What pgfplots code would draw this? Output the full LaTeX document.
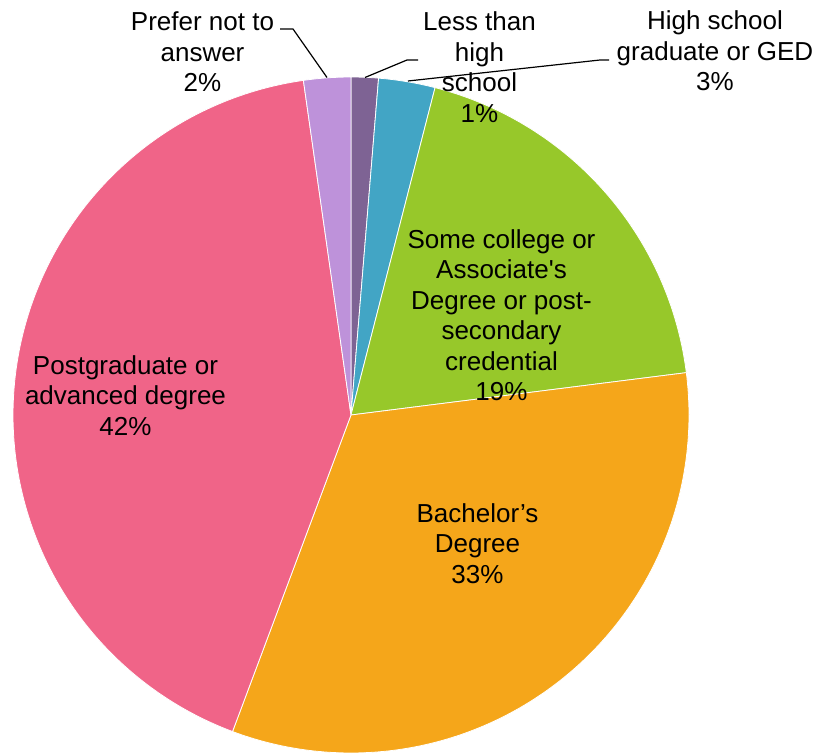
\documentclass[border=0pt]{standalone}
\usepackage{pgfplots}
\pgfplotsset{compat=1.18}
\usepackage{fontspec}
\setmainfont{Liberation Sans}
\definecolor{cLT}{HTML}{7E6394}
\definecolor{cHS}{HTML}{42A5C5}
\definecolor{cSC}{HTML}{97C82A}
\definecolor{cBA}{HTML}{F5A61A}
\definecolor{cPG}{HTML}{F06488}
\definecolor{cPN}{HTML}{BE92DA}
% data (percent)
\def\vLT{1.3}
\def\vHS{2.7}
\def\vSC{19.0}
\def\vBA{32.7}
\def\vPG{42.05}
\def\vPN{2.25}
\pgfmathsetmacro\aA{0}
\pgfmathsetmacro\aB{\aA+\vLT*3.6}
\pgfmathsetmacro\aC{\aB+\vHS*3.6}
\pgfmathsetmacro\aD{\aC+\vSC*3.6}
\pgfmathsetmacro\aE{\aD+\vBA*3.6}
\pgfmathsetmacro\aF{\aE+\vPG*3.6}
\pgfmathsetmacro\aG{\aF+\vPN*3.6}
\newcommand{\slice}[3]{%
  \addplot[fill=#3, draw=white, line width=0.8pt, domain=#1:#2, samples=150, variable=\t]
    ({351+338*sin(\t)}, {415-338*cos(\t)}) -- (axis cs:351,415) -- cycle;}
\newcommand{\lblfont}{\fontsize{26.1}{30.5}\selectfont}
\newcommand{\lbl}[3]{\node[anchor=base, font=\lblfont, inner sep=0pt] at (axis cs:#1,#2) {#3};}
\begin{document}
\begin{tikzpicture}
\begin{axis}[x=1bp, y=1bp, y dir=reverse, xmin=0, xmax=821, ymin=0, ymax=753,
  hide axis, clip=false]
\path (axis cs:0,0) rectangle (axis cs:821,753);
\slice{\aA}{\aB}{cLT}
\slice{\aB}{\aC}{cHS}
\slice{\aC}{\aD}{cSC}
\slice{\aD}{\aE}{cBA}
\slice{\aE}{\aF}{cPG}
\slice{\aF}{\aG}{cPN}
% leader lines
\addplot[black, line width=1.2pt] coordinates {(280,29) (293,29) (327,77.5)};
\addplot[black, line width=1.2pt] coordinates {(418,60) (407,60) (365,77.5)};
\addplot[black, line width=1.2pt] coordinates {(609,60) (600,60) (408,81)};
% labels
\lbl{202.5}{31}{Prefer not to}
\lbl{202.5}{61.5}{answer}
\lbl{202.5}{92}{2\%}
\lbl{479.5}{31}{Less than}
\lbl{479.5}{61.5}{high}
\lbl{479.5}{92}{school}
\lbl{479.5}{122.5}{1\%}
\lbl{715}{30}{High school}
\lbl{715}{60.5}{graduate or GED}
\lbl{715}{91}{3\%}
\lbl{501.5}{248}{Some college or}
\lbl{501.5}{278.5}{Associate\textquotesingle s}
\lbl{501.5}{309}{Degree or post-}
\lbl{501.5}{339.5}{secondary}
\lbl{501.5}{370}{credential}
\lbl{501.5}{400.5}{19\%}
\lbl{125.5}{374}{Postgraduate or}
\lbl{125.5}{404.5}{advanced degree}
\lbl{125.5}{435}{42\%}
\lbl{477.5}{522}{Bachelor’s}
\lbl{477.5}{552.5}{Degree}
\lbl{477.5}{583}{33\%}
\end{axis}
\end{tikzpicture}
\end{document}
